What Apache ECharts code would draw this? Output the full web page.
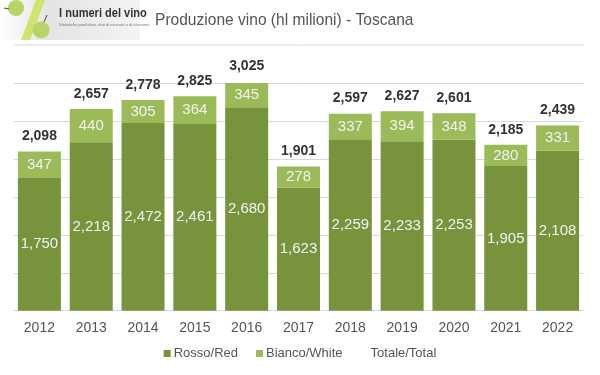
<!DOCTYPE html>
<html>
<head>
<meta charset="utf-8">
<script src="https://cdn.jsdelivr.net/npm/echarts@6/dist/echarts.min.js"></script>
<style>
html,body{margin:0;padding:0;background:#fff;}
#chart{width:600px;height:375px;}
</style>
</head>
<body>
<div id="chart"></div>
<script>
const years = ['2012','2013','2014','2015','2016','2017','2018','2019','2020','2021','2022'];
const rosso = [1750, 2218, 2472, 2461, 2680, 1623, 2259, 2233, 2253, 1905, 2108];
const bianco = [347, 440, 305, 364, 345, 278, 337, 394, 348, 280, 331];
const totale = [2098, 2657, 2778, 2825, 3025, 1901, 2597, 2627, 2601, 2185, 2439];

const fmt = v => Number(v).toLocaleString('en-US');
const FONT = "'Liberation Sans', Arial, sans-serif";

const chart = echarts.init(document.getElementById('chart'), null, {renderer: 'canvas'});
chart.setOption({
  animation: false,
  backgroundColor: '#fff',
  grid: {left: 13.5, right: 16.5, top: 83, bottom: 64.3, containLabel: false},
  legend: {
    bottom: 10,
    left: 'center',
    itemWidth: 7, itemHeight: 7, itemGap: 18,
    textStyle: {fontFamily: FONT, fontSize: 13, color: '#555', padding: [0,0,0,-2]},
    data: [
      {name: 'Rosso/Red', icon: 'rect'},
      {name: 'Bianco/White', icon: 'rect'},
      {name: 'Totale/Total', icon: 'rect'}
    ]
  },
  xAxis: {
    type: 'category',
    data: years,
    axisLine: {lineStyle: {color: '#d9d9d9'}},
    axisTick: {show: false},
    axisLabel: {fontFamily: FONT, fontSize: 14, color: '#555', margin: 10}
  },
  yAxis: {
    type: 'value',
    min: 0, max: 3000, interval: 500,
    axisLabel: {show: false},
    axisLine: {show: false},
    axisTick: {show: false},
    splitLine: {lineStyle: {color: '#d9d9d9'}}
  },
  graphic: [
    {type: 'rect', shape: {x: 0, y: 0, width: 140, height: 40},
     style: {fill: new echarts.graphic.LinearGradient(0, 0, 1, 0, [
       {offset: 0, color: '#ffffff'}, {offset: 0.35, color: '#e4e4e4'}, {offset: 1, color: '#f4f4f4'}])}},
    {type: 'polygon', shape: {points: [[30,40],[21,40],[36,0],[45,0]]}, style: {fill: '#cde46e'}},
    {type: 'circle', shape: {cx: 16, cy: 8, r: 8}, style: {fill: '#b9d466'}},
    {type: 'circle', shape: {cx: 41, cy: 30, r: 8.5}, style: {fill: '#b9d466'}},
    {type: 'line', shape: {x1: 44, y1: 22, x2: 47, y2: 15}, style: {stroke: '#4a4a2a', lineWidth: 1}},
    {type: 'line', shape: {x1: 4, y1: 8, x2: 9, y2: 9}, style: {stroke: '#4a4a2a', lineWidth: 1}},
    {type: 'text', x: 59, y: 7, scaleX: 0.85, style: {text: 'I numeri del vino', font: "bold 13px " + FONT, fill: '#333'}},
    {type: 'text', x: 59, y: 23, style: {text: 'Statistiche produttive, dati di mercato e di consumo', font: "4px " + FONT, fill: '#777'}},
    {type: 'text', x: 155, y: 12, scaleX: 0.915, style: {text: 'Produzione vino (hl milioni) - Toscana', font: "17px " + FONT, fill: '#555'}},
    {type: 'line', shape: {x1: 13, y1: 45, x2: 584, y2: 45}, style: {stroke: '#d9d9d9', lineWidth: 1}}
  ],
  series: [
    {
      name: 'Rosso/Red', type: 'bar', stack: 'vino', barWidth: 43,
      data: rosso,
      itemStyle: {color: '#77933c'},
      label: {show: true, position: 'inside', fontFamily: FONT, fontSize: 15, color: '#f2f2f2', formatter: p => fmt(p.value)}
    },
    {
      name: 'Bianco/White', type: 'bar', stack: 'vino', barWidth: 43,
      data: bianco,
      itemStyle: {color: '#9bbb59'},
      label: {show: true, position: 'inside', fontFamily: FONT, fontSize: 15, color: '#f2f2f2', formatter: p => fmt(p.value)}
    },
    {
      name: 'Totale/Total', type: 'bar', barWidth: 43, barGap: '-100%',
      data: totale, z: 1, clip: false,
      itemStyle: {color: 'rgba(0,0,0,0)'},
      label: {show: true, position: 'top', distance: 8, fontFamily: FONT, fontSize: 14, fontWeight: 'bold', color: '#333', formatter: p => fmt(p.value)}
    }
  ]
});
</script>
</body>
</html>
